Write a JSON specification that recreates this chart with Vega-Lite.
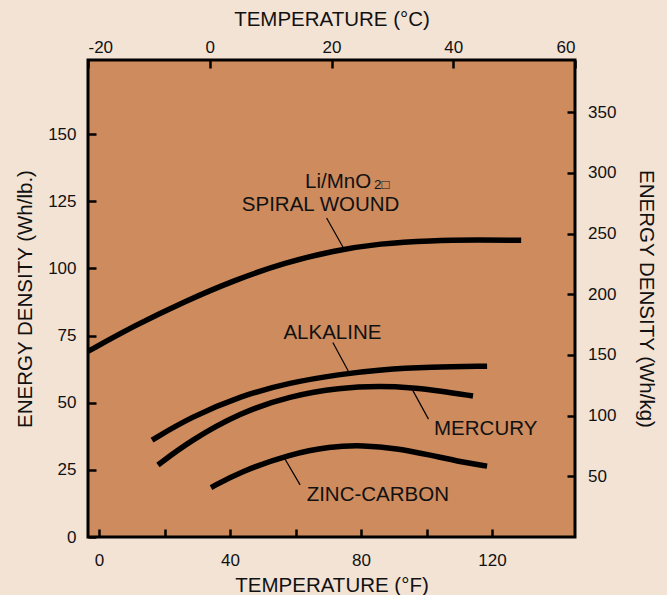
{
  "$schema": "https://vega.github.io/schema/vega-lite/v6.json",
  "width": 487,
  "height": 477,
  "autosize": {"type": "none"},
  "padding": {"left": 88, "top": 60, "right": 92, "bottom": 58},
  "background": "#F3E3D5",
  "config": {
    "view": {"fill": "#CD8B5E", "stroke": "#000000", "strokeWidth": 3},
    "font": "Liberation Sans",
    "axis": {
      "domain": false,
      "grid": false,
      "tickColor": "#000000",
      "tickWidth": 2.5,
      "tickSize": -8,
      "labelFont": "Liberation Sans",
      "labelFontSize": 17,
      "labelColor": "#111111",
      "titleFont": "Liberation Sans",
      "titleFontSize": 20.5,
      "titleFontWeight": "normal",
      "titleColor": "#111111"
    }
  },
  "layer": [
    {
      "layer": [
        {
          "data": {
            "values": [
              {"series": "Spiral", "F": -3.4, "Y": 69.1},
              {"series": "Spiral", "F": 11.0, "Y": 78.8},
              {"series": "Spiral", "F": 26.3, "Y": 87.8},
              {"series": "Spiral", "F": 41.5, "Y": 95.7},
              {"series": "Spiral", "F": 56.8, "Y": 102.2},
              {"series": "Spiral", "F": 72.1, "Y": 106.7},
              {"series": "Spiral", "F": 85.8, "Y": 109.3},
              {"series": "Spiral", "F": 101.1, "Y": 110.4},
              {"series": "Spiral", "F": 116.3, "Y": 110.6},
              {"series": "Spiral", "F": 128.9, "Y": 110.5},
              {"series": "Alkaline", "F": 16.2, "Y": 36.1},
              {"series": "Alkaline", "F": 27.8, "Y": 44.5},
              {"series": "Alkaline", "F": 43.1, "Y": 52.5},
              {"series": "Alkaline", "F": 58.3, "Y": 57.5},
              {"series": "Alkaline", "F": 73.6, "Y": 60.6},
              {"series": "Alkaline", "F": 85.8, "Y": 62.3},
              {"series": "Alkaline", "F": 101.1, "Y": 63.3},
              {"series": "Alkaline", "F": 118.5, "Y": 63.6},
              {"series": "Mercury", "F": 18.0, "Y": 26.8},
              {"series": "Mercury", "F": 27.8, "Y": 35.8},
              {"series": "Mercury", "F": 43.1, "Y": 46.3},
              {"series": "Mercury", "F": 58.3, "Y": 52.5},
              {"series": "Mercury", "F": 73.6, "Y": 55.6},
              {"series": "Mercury", "F": 85.8, "Y": 56.2},
              {"series": "Mercury", "F": 95.9, "Y": 55.6},
              {"series": "Mercury", "F": 104.1, "Y": 54.4},
              {"series": "Mercury", "F": 114.2, "Y": 52.5},
              {"series": "Zinc", "F": 34.2, "Y": 18.4},
              {"series": "Zinc", "F": 43.1, "Y": 24.3},
              {"series": "Zinc", "F": 58.3, "Y": 30.8},
              {"series": "Zinc", "F": 70.5, "Y": 33.7},
              {"series": "Zinc", "F": 80.6, "Y": 34.2},
              {"series": "Zinc", "F": 91.0, "Y": 33.0},
              {"series": "Zinc", "F": 101.1, "Y": 30.5},
              {"series": "Zinc", "F": 111.1, "Y": 27.8},
              {"series": "Zinc", "F": 118.5, "Y": 26.4}
            ]
          },
          "mark": {"type": "line", "interpolate": "basis", "color": "#000000", "strokeWidth": 5.5, "clip": true},
          "encoding": {
            "x": {
              "field": "F", "type": "quantitative",
              "scale": {"domain": [-3.36, 145.34], "nice": false, "zero": false},
              "axis": {
                "orient": "bottom",
                "title": "TEMPERATURE (°F)",
                "values": [0, 20, 40, 60, 80, 100, 120],
                "labelExpr": "datum.value % 40 == 0 ? datum.label : ''",
                "labelPadding": 23.5,
                "titlePadding": 7
              }
            },
            "y": {
              "field": "Y", "type": "quantitative",
              "scale": {"domain": [0, 177.6], "nice": false},
              "axis": {
                "orient": "left",
                "title": "ENERGY DENSITY (Wh/lb.)",
                "values": [0, 25, 50, 75, 100, 125, 150],
                "labelPadding": 20,
                "titlePadding": 12
              }
            },
            "detail": {"field": "series"}
          }
        },
        {
          "data": {
            "values": [
              {"F": 69.5, "Y": 118.8, "F2": 74.6, "Y2": 107.7},
              {"F": 71.4, "Y": 72.4, "F2": 76.1, "Y2": 61.8},
              {"F": 95.8, "Y": 54.6, "F2": 100.6, "Y2": 43.9},
              {"F": 56.6, "Y": 29.4, "F2": 61.4, "Y2": 19.4}
            ]
          },
          "mark": {"type": "rule", "color": "#000000", "strokeWidth": 1.2},
          "encoding": {
            "x": {"field": "F", "type": "quantitative"},
            "y": {"field": "Y", "type": "quantitative"},
            "x2": {"field": "F2"},
            "y2": {"field": "Y2"}
          }
        },
        {
          "data": {
            "values": [
              {"label": "Li/MnO", "F": 62.9, "Y": 130.1},
              {"label": "SPIRAL WOUND", "F": 43.6, "Y": 121.3},
              {"label": "ALKALINE", "F": 56.3, "Y": 73.8},
              {"label": "MERCURY", "F": 102.3, "Y": 38.0},
              {"label": "ZINC-CARBON", "F": 63.4, "Y": 13.5}
            ]
          },
          "mark": {"type": "text", "align": "left", "baseline": "alphabetic", "fontSize": 20.5, "font": "Liberation Sans", "color": "#111111"},
          "encoding": {
            "x": {"field": "F", "type": "quantitative"},
            "y": {"field": "Y", "type": "quantitative"},
            "text": {"field": "label"}
          }
        },
        {
          "data": {"values": [{"label": "2□", "F": 84.0, "Y": 129.6}]},
          "mark": {"type": "text", "align": "left", "baseline": "alphabetic", "fontSize": 13.5, "font": "Liberation Sans", "color": "#111111"},
          "encoding": {
            "x": {"field": "F", "type": "quantitative"},
            "y": {"field": "Y", "type": "quantitative"},
            "text": {"field": "label"}
          }
        }
      ]
    },
    {
      "data": {"values": [{"C": -20}, {"C": 60}]},
      "mark": {"type": "point", "opacity": 0},
      "encoding": {
        "x": {
          "field": "C", "type": "quantitative",
          "scale": {"domain": [-20, 60], "nice": false, "zero": false},
          "axis": {
            "orient": "top",
            "title": "TEMPERATURE (°C)",
            "values": [-20, 0, 20, 40, 60],
            "labelExpr": "replace(datum.label, '−', '-')",
            "labelPadding": 11.5,
            "titlePadding": 9.5
          }
        }
      }
    },
    {
      "data": {"values": [{"K": 0}, {"K": 393}]},
      "mark": {"type": "point", "opacity": 0},
      "encoding": {
        "y": {
          "field": "K", "type": "quantitative",
          "scale": {"domain": [0, 393], "nice": false},
          "axis": {
            "orient": "right",
            "title": "ENERGY DENSITY (Wh/kg)",
            "values": [50, 100, 150, 200, 250, 300, 350],
            "labelPadding": 20.5,
            "titlePadding": 20
          }
        }
      }
    }
  ],
  "resolve": {"scale": {"x": "independent", "y": "independent"}, "axis": {"x": "independent", "y": "independent"}}
}
